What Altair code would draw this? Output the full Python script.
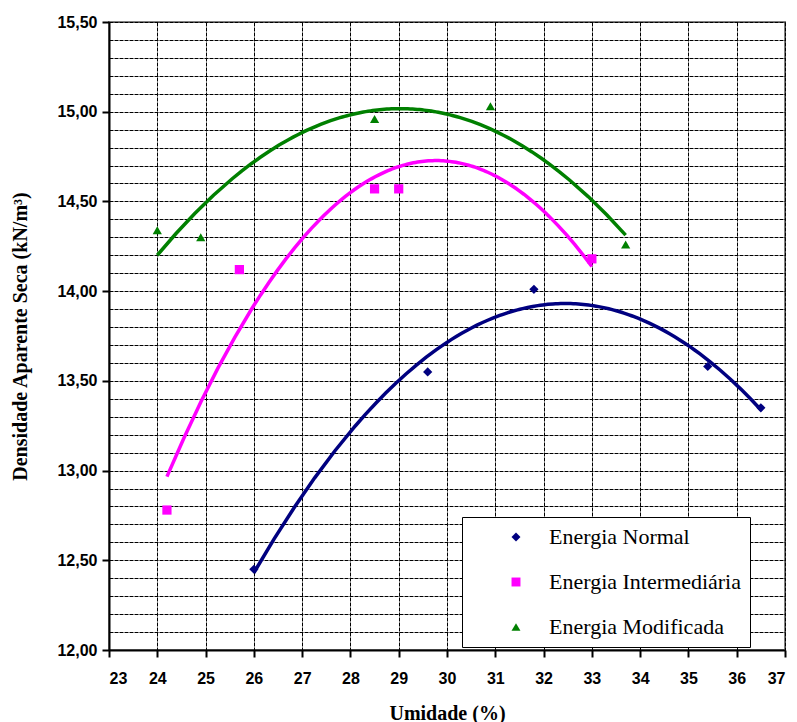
import altair as alt
import pandas as pd

# --- data ---
series_names = ["Energia Normal", " Energia Intermediária", "Energia Modificada"]

normal_x = [26.0, 29.6, 31.8, 35.4, 36.5]
normal_y = [12.45, 13.55, 14.01, 13.58, 13.35]

inter_x = [24.2, 25.7, 28.5, 29.0, 33.0]
inter_y = [12.78, 14.12, 14.57, 14.57, 14.18]

modif_x = [24.0, 24.9, 28.5, 30.9, 33.7]
modif_y = [14.34, 14.30, 14.96, 15.03, 14.26]

x_ticks = list(range(23, 38))
y_ticks = [round(12.0 + 0.1 * i, 1) for i in range(36)]

colors = ["#000080", "#FF00FF", "#008000"]
shapes = ["diamond", "square", "triangle-up"]

rows = []
for name, xs, ys in [(series_names[0], normal_x, normal_y),
                     (series_names[1], inter_x, inter_y),
                     (series_names[2], modif_x, modif_y)]:
    for xv, yv in zip(xs, ys):
        rows.append({"serie": name, "umidade": xv, "densidade": yv})
df = pd.DataFrame(rows)

x_scale = alt.Scale(domain=[23, 37], nice=False, zero=False)
y_scale = alt.Scale(domain=[12.0, 15.5], nice=False, zero=False)

is_major = "abs(datum.value*2 - round(datum.value*2)) < 0.001"

x_axis = alt.Axis(
    values=x_ticks, title="Umidade (%)", grid=True, gridColor="#000000",
    gridDash=[4, 1], gridWidth=1, domainColor="#000000", domainWidth=2,
    tickColor="#000000", tickSize=7, tickWidth=2,
    labelFont="Liberation Sans", labelFontWeight="bold", labelFontSize=16,
    labelColor="#000000", labelPadding=13,
    titleFont="Liberation Serif", titleFontWeight="bold", titleFontSize=20,
    titleColor="#000000", titleX=338, titleY=63, titleBaseline="middle",
)
y_axis = alt.Axis(
    values=y_ticks, title="Densidade Aparente Seca (kN/m³)", grid=True,
    gridColor="#000000", gridDash=[4, 1], gridWidth=1,
    domainColor="#000000", domainWidth=2,
    tickColor="#000000", tickSize=7, tickWidth=2,
    tickOpacity={"expr": is_major + " ? 1 : 0"},
    labelExpr=is_major + " ? replace(format(datum.value, '.2f'), '.', ',') : ''",
    labelFont="Liberation Sans", labelFontWeight="bold", labelFontSize=16,
    labelColor="#000000", labelPadding=5,
    titleFont="Liberation Serif", titleFontWeight="bold", titleFontSize=20,
    titleColor="#000000", titleX=-89, titleY=314, titleBaseline="middle",
    titleAngle=270,
)

color_scale = alt.Scale(domain=series_names, range=colors)
shape_scale = alt.Scale(domain=series_names, range=shapes)

base = alt.Chart(df)

line_layers = []
for name, c in zip(series_names, colors):
    line_layers.append(
        base.transform_filter(alt.datum.serie == name)
        .transform_regression("umidade", "densidade", method="poly", order=2)
        .mark_line(strokeWidth=3.5, color=c, clip=True)
        .encode(
            x=alt.X("umidade:Q", scale=x_scale, axis=x_axis),
            y=alt.Y("densidade:Q", scale=y_scale, axis=y_axis),
        )
    )

legend = alt.Legend(
    title=None, orient="none", legendX=353, legendY=495,
    fillColor="#FFFFFF", strokeColor="#000000",
    padding=9, rowPadding=23, symbolOffset=34, labelOffset=22,
    labelFont="Liberation Serif", labelFontSize=22, labelColor="#000000",
    symbolSize=80, labelLimit=400,
)

points = base.mark_point(filled=True, size=85, opacity=1).encode(
    x=alt.X("umidade:Q", scale=x_scale, axis=x_axis),
    y=alt.Y("densidade:Q", scale=y_scale, axis=y_axis),
    color=alt.Color("serie:N", scale=color_scale, legend=legend),
    shape=alt.Shape("serie:N", scale=shape_scale),
)

chart = alt.layer(*line_layers, points).properties(
    width=676, height=628,
    autosize=alt.AutoSizeParams(type="none"),
    padding={"left": 109, "top": 22, "right": 12, "bottom": 72},
    background="#FFFFFF",
).configure_view(stroke="#808080", strokeWidth=2)

chart.save("out.html", embed_options={"renderer": "svg", "actions": False})
